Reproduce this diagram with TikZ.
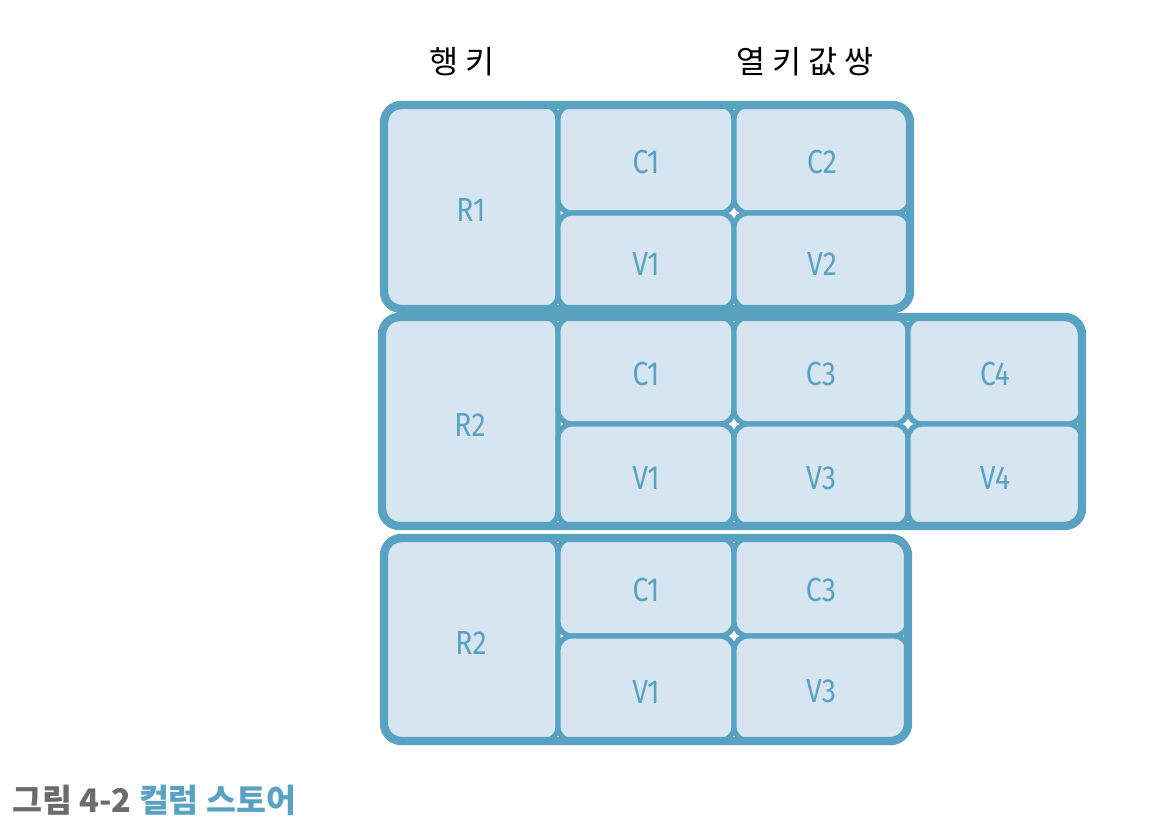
\documentclass[tikz,border=0pt]{standalone}
\usepackage{fontspec}
\setmainfont{Noto Sans CJK KR}
\newfontfamily\cellfont[FakeStretch=0.85]{Fira Sans}
\usetikzlibrary{calc}
\definecolor{cblue}{HTML}{5AA2C2}
\definecolor{cfill}{HTML}{D6E5EF}
\definecolor{capgray}{HTML}{6B6B6B}
\tikzset{
  cellbox/.style={draw=cblue, fill=cfill, line width=3pt, rounded corners=8pt},
  groupbox/.style={draw=cblue, line width=4.8pt, rounded corners=10pt},
  celltext/.style={text=cblue, font=\cellfont\fontsize{19}{19}\selectfont, inner sep=0pt},
  headtext/.style={text=black, font=\fontsize{18}{19}\selectfont, inner sep=0pt},
  captext/.style={font=\bfseries\fontsize{18.5}{19}\selectfont, inner sep=0pt, anchor=west}
}
\newcommand{\mycell}[6]{%
  \path[cellbox] (#2,#3) rectangle (#4,#5);
  \node[celltext] (#1) at ($(#2,#3)!0.5!(#4,#5)+(0,3)$) {#6};}
\begin{document}
\begin{tikzpicture}[x=0.02cm,y=-0.02cm]
\useasboundingbox (0,0) rectangle (1150,832);
% group 1
\mycell{g1r}{384}{105}{558}{309}{R1}
\mycell{g1c1}{558}{105}{734}{213}{C1}
\mycell{g1v1}{558}{213}{734}{309}{V1}
\mycell{g1c2}{734}{105}{910}{213}{C2}
\mycell{g1v2}{734}{213}{910}{309}{V2}
\draw[groupbox] (384,105) rectangle (910,309);
% group 2
\mycell{g2r}{382}{317}{558}{526}{R2}
\mycell{g2c1}{558}{317}{734}{424}{C1}
\mycell{g2v1}{558}{424}{734}{526}{V1}
\mycell{g2c3}{734}{317}{908}{424}{C3}
\mycell{g2v3}{734}{424}{908}{526}{V3}
\mycell{g2c4}{908}{317}{1082}{424}{C4}
\mycell{g2v4}{908}{424}{1082}{526}{V4}
\draw[groupbox] (382,317) rectangle (1082,526);
% group 3
\mycell{g3r}{384}{538}{558}{741}{R2}
\mycell{g3c1}{558}{538}{734}{636}{C1}
\mycell{g3v1}{558}{636}{734}{741}{V1}
\mycell{g3c3}{734}{538}{908}{636}{C3}
\mycell{g3v3}{734}{636}{908}{741}{V3}
\draw[groupbox] (384,538) rectangle (908,741);
% headers
\node[headtext] (hrow) at (462,62) {행 키};
\node[headtext] (hcol) at (805,62) {열 키 값 쌍};
% caption
\node[captext] (cap) at (12,800) {\textcolor{capgray}{그림 4-2} \textcolor{cblue}{컬럼 스토어}};
\end{tikzpicture}
\end{document}
